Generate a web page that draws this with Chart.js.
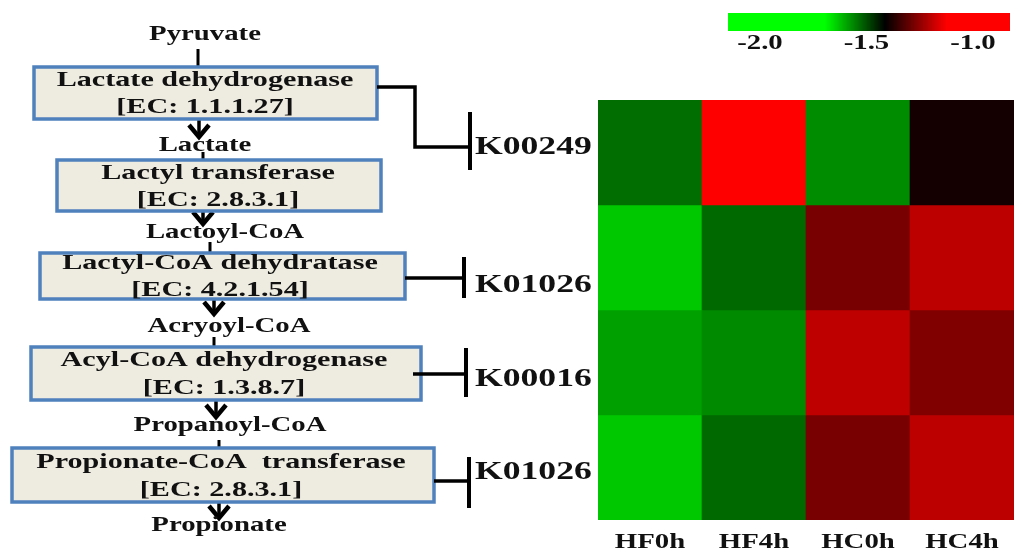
<!DOCTYPE html>
<html>
<head>
<title>Propionate pathway heatmap</title>
<script src="https://cdn.jsdelivr.net/npm/chart.js"></script>
<style>
html, body { margin: 0; padding: 0; background: #fff; }
.wrap { position: relative; width: 1023px; height: 553px; }
</style>
</head>
<body>
<div class="wrap">
<canvas id="heat"></canvas>
</div>
<script>
// heatmap data (log values)
const colLabels = ['HF0h', 'HF4h', 'HC0h', 'HC4h'];
const rowLabels = ['K00249', 'K01026', 'K00016', 'K01026'];
const k00249 = [-1.535, -1.05, -1.568, -1.39];
const k01026a = [-1.634, -1.529, -1.276, -1.198];
const k00016 = [-1.590, -1.566, -1.196, -1.267];
const k01026b = [-1.634, -1.529, -1.276, -1.198];
const rows = [k00249, k01026a, k00016, k01026b];
const cbTicks = [-2.0, -1.5, -1.0];

// pathway text
const metabolites = ['Pyruvate', 'Lactate', 'Lactoyl-CoA', 'Acryoyl-CoA', 'Propanoyl-CoA', 'Propionate'];
const enzymes = ['Lactate dehydrogenase', 'Lactyl transferase', 'Lactyl-CoA dehydratase', 'Acyl-CoA dehydrogenase', 'Propionate-CoA  transferase'];
const ecNumbers = ['[EC: 1.1.1.27]', '[EC: 2.8.3.1]', '[EC: 4.2.1.54]', '[EC: 1.3.8.7]', '[EC: 2.8.3.1]'];

// layout of the diagram (pixels)
const metPos = [[205, 35], [205, 146], [225, 233], [229, 327], [230, 426], [219, 526]];
const boxPos = [[34, 67, 377, 119], [57, 160, 381, 211], [40, 253, 405, 299], [31, 347, 421, 400], [12, 448, 434, 502]];
const boxText = [[205, 80, 107], [218, 173, 200], [220, 263, 290], [224, 360, 388], [221, 462, 490]];
const stems = [[198, 49, 67], [203, 152, 160], [210, 242, 253], [214, 337, 347], [219, 440, 448]];
const arrows = [[199, 119, 138], [203, 211, 225], [214, 299, 315], [216, 400, 418], [219, 502, 519]];
// bracket: path points, bar x, bar y1, bar y2, label y
const brackets = [
  [[[377, 87], [415, 87], [415, 147], [470, 147]], 470, 112, 170, 147],
  [[[405, 278], [464, 278]], 464, 257, 298, 285],
  [[[413, 374], [466, 374]], 466, 348, 397, 379],
  [[[434, 481], [469, 481]], 469, 457, 508, 472]
];
const cbBox = [728, 13, 1010, 31];
const cbRange = [-2.15, -0.826];

const SX = 1.37; // text is stretched sideways in the original
const FONT = '"Liberation Serif", "Times New Roman", serif';

function colorFor(v) {
  const gLo = -1.695, mid = -1.413, rHi = -1.122;
  if (v <= mid) {
    const t = Math.max(0, Math.min(1, (mid - v) / (mid - gLo)));
    return 'rgb(0,' + Math.round(255 * t) + ',0)';
  }
  const t = Math.max(0, Math.min(1, (v - mid) / (rHi - mid)));
  return 'rgb(' + Math.round(255 * t) + ',0,0)';
}

function stext(ctx, s, x, y, size, align) {
  ctx.save();
  ctx.font = 'bold ' + size + 'px ' + FONT;
  ctx.fillStyle = '#111';
  ctx.translate(x, y);
  ctx.scale(SX, 1);
  ctx.textAlign = align || 'center';
  ctx.textBaseline = 'middle';
  ctx.fillText(s, 0, 0);
  ctx.restore();
}

function line(ctx, pts, w) {
  ctx.beginPath();
  ctx.moveTo(pts[0][0], pts[0][1]);
  for (let i = 1; i < pts.length; i++) ctx.lineTo(pts[i][0], pts[i][1]);
  ctx.lineWidth = w;
  ctx.strokeStyle = '#000';
  ctx.stroke();
}

const diagram = {
  id: 'diagram',
  afterDraw(chart) {
    const ctx = chart.ctx;
    ctx.save();
    ctx.lineCap = 'butt';
    ctx.lineJoin = 'miter';

    stems.forEach(s => line(ctx, [[s[0], s[1]], [s[0], s[2]]], 3));
    arrows.forEach(a => {
      line(ctx, [[a[0], a[1]], [a[0], a[2] - 3]], 3.5);
      line(ctx, [[a[0] - 10, a[2] - 13], [a[0], a[2] - 1], [a[0] + 10, a[2] - 13]], 4.5);
    });
    metabolites.forEach((m, i) => stext(ctx, m, metPos[i][0], metPos[i][1], 21));

    boxPos.forEach((b, i) => {
      ctx.fillStyle = '#EEECE1';
      ctx.fillRect(b[0], b[1], b[2] - b[0], b[3] - b[1]);
      ctx.strokeStyle = '#4F81BD';
      ctx.lineWidth = 3.5;
      ctx.strokeRect(b[0], b[1], b[2] - b[0], b[3] - b[1]);
      stext(ctx, enzymes[i], boxText[i][0], boxText[i][1], 22);
      stext(ctx, ecNumbers[i], boxText[i][0], boxText[i][2], 22);
    });

    brackets.forEach((br, i) => {
      line(ctx, br[0], 3.5);
      line(ctx, [[br[1], br[2]], [br[1], br[3]]], 4);
      stext(ctx, rowLabels[i], 475, br[4], 26, 'left');
    });

    // column labels under the heatmap, from the x scale
    const xs = chart.scales.x;
    colLabels.forEach((c, i) => stext(ctx, c, xs.getPixelForValue(i), 543, 21));

    // colour key
    const [x1, y1, x2, y2] = cbBox;
    const toVal = px => cbRange[0] + (px - x1) / (x2 - x1) * (cbRange[1] - cbRange[0]);
    const toPx = v => x1 + (v - cbRange[0]) / (cbRange[1] - cbRange[0]) * (x2 - x1);
    for (let px = x1; px < x2; px++) {
      ctx.fillStyle = colorFor(toVal(px + 0.5));
      ctx.fillRect(px, y1, 1, y2 - y1);
    }
    cbTicks.forEach(t => stext(ctx, t.toFixed(1), toPx(t), 44, 21));
    ctx.restore();
  }
};

const ctx = document.getElementById('heat').getContext('2d');
new Chart(ctx, {
  type: 'bar',
  data: {
    labels: colLabels,
    datasets: rows.map((vals, r) => ({
      label: rowLabels[r],
      data: vals.map(() => [r, r + 1]),
      backgroundColor: vals.map(colorFor),
      borderWidth: 0,
      barPercentage: 1,
      categoryPercentage: 1
    }))
  },
  options: {
    responsive: true,
    maintainAspectRatio: false,
    animation: false,
    layout: { padding: { left: 598, right: 9, top: 100, bottom: 33 } },
    scales: {
      x: {
        stacked: true,
        grid: { display: false, drawTicks: false },
        border: { display: false },
        ticks: { display: false }
      },
      y: { min: 0, max: 4, reverse: true, display: false }
    },
    plugins: { legend: { display: false }, tooltip: { enabled: false } }
  },
  plugins: [diagram]
});
</script>
</body>
</html>
